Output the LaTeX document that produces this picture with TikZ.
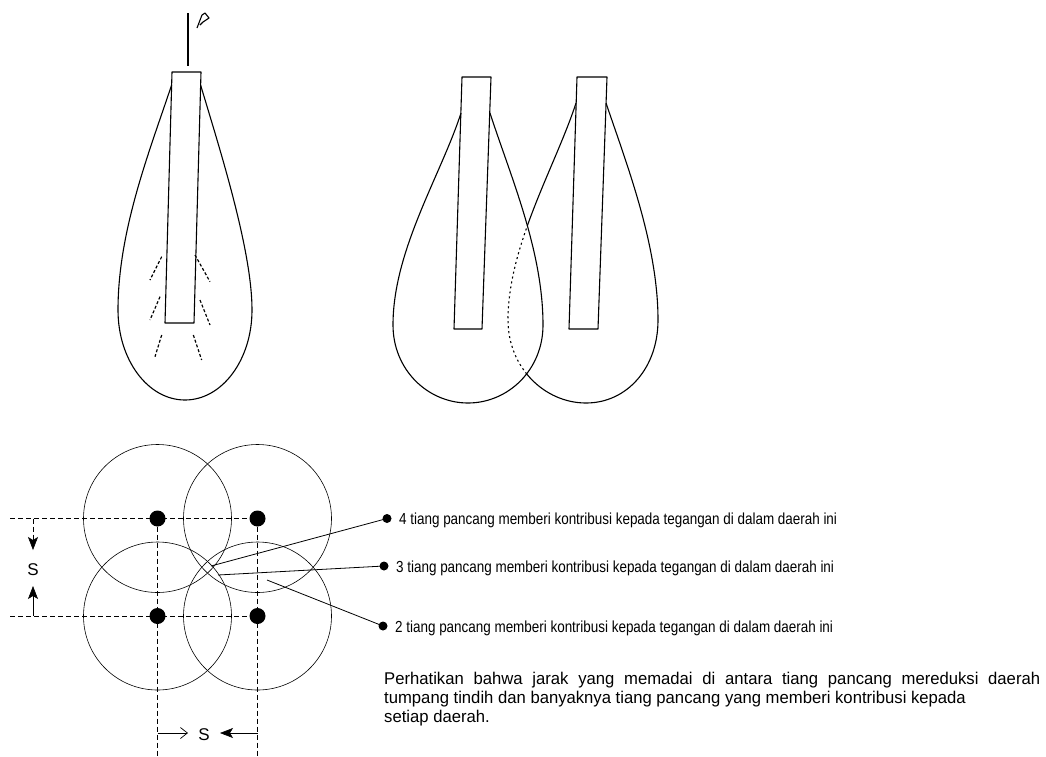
\documentclass[tikz,border=0pt]{standalone}
\usepackage{fontspec}
\setmainfont{Liberation Sans}
\newfontfamily\lblfont[FakeStretch=0.84]{Liberation Sans}
\newfontfamily\notefont[FakeStretch=0.98]{Liberation Sans}
\usetikzlibrary{arrows.meta}
\begin{document}
\begin{tikzpicture}[x=1pt,y=-1pt,
  outline/.style={line width=1.1pt, line join=round},
  hidden/.style={line width=1.1pt, dash pattern=on 2pt off 3pt},
  spread/.style={dash pattern=on 3pt off 2pt, line width=1.2pt},
  gridline/.style={dash pattern=on 5pt off 3pt, line width=0.6pt},
  ring/.style={line width=0.6pt},
  pilehead/.style={circle, fill, inner sep=0pt, minimum size=16pt},
  pin/.style={circle, fill, inner sep=0pt, minimum size=9pt},
  leader/.style={line width=0.8pt},
  tip/.style={-{Stealth[length=13pt,width=10pt,inset=3pt]}},
  lbl/.style={anchor=base west, inner sep=0pt, font=\lblfont\fontsize{16}{18}\selectfont},
  note/.style={anchor=base west, inner sep=0pt, font=\notefont\fontsize{17}{19}\selectfont},
  dimlbl/.style={font=\fontsize{17}{19}\selectfont, inner sep=1pt}]
\useasboundingbox (0,0) rectangle (1046,756);

% ---------- single pile with its stress bulb ----------
\draw[outline] (188,13) -- (188,66);
\draw[outline] (197,28) -- (202,15) -- (205,13) -- (209,18) -- (203,22) -- (200,25);
\draw[outline] (172,72) -- (201,72) -- (194,323) -- (165,323) -- cycle;
\draw[outline] (171.6,85) .. controls (150,150) and (118,230) .. (118,310)
  .. controls (118,360) and (148,400) .. (185,400)
  .. controls (222,400) and (252,360) .. (252,310)
  .. controls (252,250) and (220,150) .. (200.6,85);
% load spreading into the soil
\draw[spread] (161.7,256.7) -- (150,280);
\draw[spread] (160,296.7) -- (150,320);
\draw[spread] (161.7,335) -- (155,356.7);
\draw[spread] (195,255) -- (210,281.7);
\draw[spread] (200,300) -- (210,325);
\draw[spread] (193.3,335) -- (201.7,360);

% ---------- two neighbouring piles with overlapping bulbs ----------
\draw[outline] (462,77) -- (491,77) -- (482,329) -- (454,329) -- cycle;
\draw[outline] (577,77) -- (607,77) -- (598,329) -- (569,329) -- cycle;
% left bulb
\draw[outline] (461,113) .. controls (441,175) and (393,250) .. (393,325)
  .. controls (393,370) and (428,403) .. (468,403)
  .. controls (508,403) and (543,370) .. (543,325)
  .. controls (543,250) and (510,175) .. (490,113);
% right bulb: visible part outside the left bulb
\begin{scope}
  \clip (490,0) -- (490,113) .. controls (510,175) and (543,250) .. (543,325)
    .. controls (543,370) and (508,403) .. (468,403)
    -- (468,756) -- (1046,756) -- (1046,0) -- cycle;
  \draw[outline] (576,103) .. controls (556,165) and (508,245) .. (508,320)
    .. controls (508,368) and (545,403) .. (586,403)
    .. controls (627,403) and (658,368) .. (658,320)
    .. controls (658,245) and (627,165) .. (606,103);
\end{scope}
% right bulb: part lying inside the left bulb
\begin{scope}
  \clip (461,113) .. controls (441,175) and (393,250) .. (393,325)
    .. controls (393,370) and (428,403) .. (468,403)
    .. controls (508,403) and (543,370) .. (543,325)
    .. controls (543,250) and (510,175) .. (490,113) -- cycle;
  \draw[hidden] (576,103) .. controls (556,165) and (508,245) .. (508,320)
    .. controls (508,368) and (545,403) .. (586,403);
\end{scope}

% ---------- pile group in plan ----------
\node[pilehead] (p1) at (157.5,518.5) {};
\node[pilehead] (p2) at (257.5,518.5) {};
\node[pilehead] (p3) at (157.5,616) {};
\node[pilehead] (p4) at (257.5,616) {};
\foreach \p in {p1,p2,p3,p4} \draw[ring] (\p) circle[radius=74pt];

\coordinate (h1) at (10,518.5);
\coordinate (h2) at (10,616);
\coordinate (v1) at (157.5,756);
\coordinate (v2) at (257.5,756);
\draw[gridline] (h1) -- (p1.center) -- (p2.center);
\draw[gridline] (h2) -- (p3.center) -- (p4.center);
\draw[gridline] (p1.center) -- (v1);
\draw[gridline] (p2.center) -- (v2);

% spacing S, vertical
\coordinate (s1) at (33,518.5);
\coordinate (s2) at (33,616);
\node[dimlbl] (sv) at (33,570) {S};
\draw[gridline, tip] (s1) -- (33,550);
\draw[line width=0.6pt, tip] (s2) -- (33,586);
% spacing S, horizontal
\coordinate (s3) at (157.5,733);
\coordinate (s4) at (257.5,733);
\node[dimlbl] (sh) at (204,735) {S};
\draw[line width=0.7pt, -{Straight Barb[length=7pt,width=11pt]}] (s3) -- (188,733);
\draw[line width=0.6pt, tip] (s4) -- (220,733);

% ---------- callouts ----------
\node[pin] (b4) at (387,518.5) {};
\node[pin] (b3) at (384,566) {};
\node[pin] (b2) at (383,626) {};
\coordinate (z4) at (211,566);
\coordinate (z3) at (218,575);
\coordinate (z2) at (267,580);
\draw[leader] (z4) -- (b4.center);
\draw[leader] (z3) -- (b3.center);
\draw[leader] (z2) -- (b2.center);
\node[lbl] (t4) at (399,524) {4 tiang pancang memberi kontribusi kepada tegangan di dalam daerah ini};
\node[lbl] (t3) at (396,572) {3 tiang pancang memberi kontribusi kepada tegangan di dalam daerah ini};
\node[lbl] (t2) at (395,632) {2 tiang pancang memberi kontribusi kepada tegangan di dalam daerah ini};

\node[note] (n1) at (384,684) {\makebox[656pt][s]{Perhatikan bahwa jarak yang memadai di antara tiang pancang mereduksi daerah}};
\node[note] (n2) at (384,703) {tumpang tindih dan banyaknya tiang pancang yang memberi kontribusi kepada};
\node[note] (n3) at (384,722) {setiap daerah.};
\end{tikzpicture}
\end{document}
